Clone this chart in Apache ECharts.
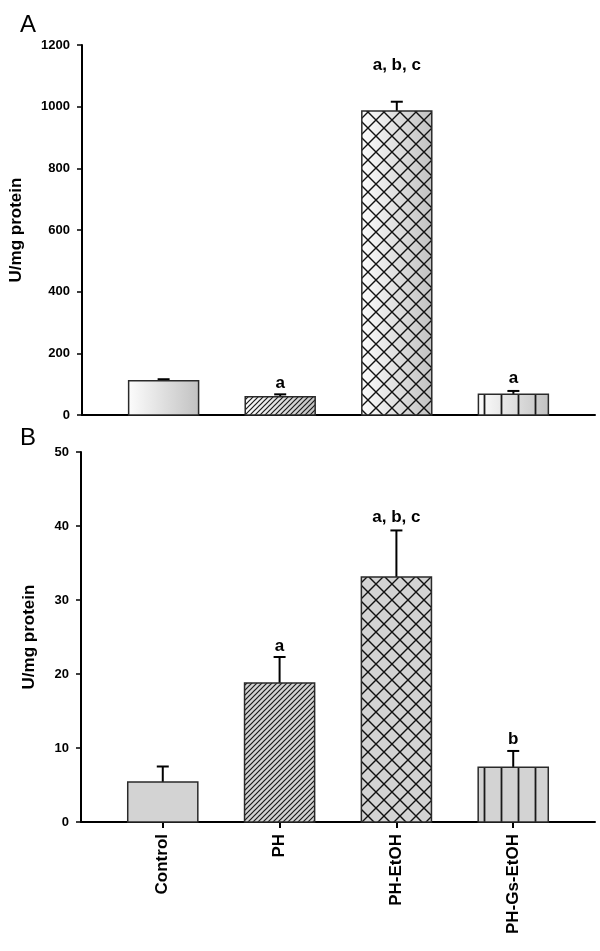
<!DOCTYPE html>
<html>
<head>
<meta charset="utf-8">
<style>
html,body{margin:0;padding:0;background:#fff;}
#chart{width:600px;height:951px;}
</style>
<script src="https://cdn.jsdelivr.net/npm/echarts@6/dist/echarts.min.js"></script>
</head>
<body>
<div id="chart"></div>
<script>
// ---- data ----
var categories = ['Control', 'PH', 'PH-EtOH', 'PH-Gs-EtOH'];
var meanA = [111, 59, 986, 67];
var errA = [5, 8, 30, 11];
var meanB = [5.4, 18.8, 33.1, 7.4];
var errB = [2.1, 3.5, 6.3, 2.2];
var sigA = ['', 'a', 'a, b, c', 'a'];
var sigAy = [null, 104, 1135, 120];
var sigB = ['', 'a', 'a, b, c', 'b'];
var sigBy = [null, 23.7, 41.2, 11.2];
var ticksA = [0, 200, 400, 600, 800, 1000, 1200];
var ticksB = [0, 10, 20, 30, 40, 50];

// ---- patterns ----
function mk(w, h, draw) {
  var c = document.createElement('canvas');
  c.width = w; c.height = h;
  var ctx = c.getContext('2d');
  draw(ctx, w, h);
  return { image: c, repeat: 'repeat' };
}
var patDiag = mk(5, 5, function (ctx, w, h) {
  ctx.strokeStyle = '#1a1a1a'; ctx.lineWidth = 1.2;
  ctx.beginPath();
  ctx.moveTo(-1, h + 1); ctx.lineTo(w + 1, -1);
  ctx.moveTo(-1, 1); ctx.lineTo(1, -1);
  ctx.moveTo(w - 1, h + 1); ctx.lineTo(w + 1, h - 1);
  ctx.stroke();
});
var patCross = mk(16, 16, function (ctx, w, h) {
  ctx.strokeStyle = '#111'; ctx.lineWidth = 1.4;
  ctx.beginPath();
  ctx.moveTo(0, 0); ctx.lineTo(w, h);
  ctx.moveTo(w, 0); ctx.lineTo(0, h);
  ctx.stroke();
});
var patVert = mk(17, 4, function (ctx, w, h) {
  ctx.strokeStyle = '#1a1a1a'; ctx.lineWidth = 1.8;
  ctx.beginPath();
  ctx.moveTo(8.5, 0); ctx.lineTo(8.5, h);
  ctx.stroke();
});
var patterns = [null, patDiag, patCross, patVert];

var FONT = "'Liberation Sans', Arial, sans-serif";

function gradFill() {
  return new echarts.graphic.LinearGradient(0, 0, 1, 0, [
    { offset: 0, color: '#fcfcfc' },
    { offset: 1, color: '#c2c2c2' }
  ]);
}

function barRender(panel) {
  return function (params, api) {
    var i = api.value(0), v = api.value(1);
    var top = api.coord([i, v]);
    var base = api.coord([i, 0]);
    var w = api.size([0.6, 0])[0];
    var shape = { x: top[0] - w / 2, y: top[1], width: w, height: base[1] - top[1] };
    var children = [{
      type: 'rect', shape: shape,
      style: { fill: panel === 'A' ? gradFill() : '#d3d3d3', stroke: 'none' }
    }];
    if (patterns[i]) {
      children.push({ type: 'rect', shape: shape, style: { fill: patterns[i], stroke: 'none' } });
    }
    children.push({ type: 'rect', shape: shape, style: { fill: 'none', stroke: '#2a2a2a', lineWidth: 1.5 } });
    return { type: 'group', children: children };
  };
}

function errRender(params, api) {
  var i = api.value(0), v = api.value(1), e = api.value(2);
  var p0 = api.coord([i, v]);
  var p1 = api.coord([i, v + e]);
  return {
    type: 'group', children: [
      { type: 'line', shape: { x1: p0[0], y1: p0[1], x2: p1[0], y2: p1[1] }, style: { stroke: '#000', lineWidth: 2 } },
      { type: 'line', shape: { x1: p1[0] - 6, y1: p1[1], x2: p1[0] + 6, y2: p1[1] }, style: { stroke: '#000', lineWidth: 2 } }
    ]
  };
}

function sigRender(labels) {
  return function (params, api) {
    var i = api.value(0), ly = api.value(1);
    var p = api.coord([i, ly]);
    return {
      type: 'text',
      style: {
        text: labels[i], x: p[0], y: p[1], align: 'center', verticalAlign: 'middle',
        font: 'bold 17px ' + FONT, fill: '#000'
      }
    };
  };
}

function sigData(ys) {
  var out = [];
  ys.forEach(function (y, i) { if (y !== null) out.push([i, y]); });
  return out;
}

var xBase = {
  type: 'value', min: -0.7, max: 3.7,
  axisLine: { show: true, onZero: false, lineStyle: { color: '#000', width: 2 } },
  splitLine: { show: false }
};

function yAxisDef(idx, ticks, gap) {
  return {
    type: 'value', gridIndex: idx, min: ticks[0], max: ticks[ticks.length - 1], interval: ticks[1] - ticks[0],
    name: 'U/mg protein', nameLocation: 'middle', nameGap: gap, nameRotate: 90,
    nameTextStyle: { fontFamily: FONT, fontSize: 17, fontWeight: 'bold', color: '#000' },
    axisLine: { show: true, onZero: false, lineStyle: { color: '#000', width: 2 } },
    axisTick: { show: true, length: 5, lineStyle: { color: '#000', width: 1.5 } },
    axisLabel: {
      margin: 12, fontFamily: FONT, fontSize: 13, fontWeight: 'bold', color: '#000',
      formatter: function (v) { return String(v); }
    },
    splitLine: { show: false }
  };
}

var chart = echarts.init(document.getElementById('chart'), null, { renderer: 'canvas' });
chart.setOption({
  animation: false,
  backgroundColor: '#fff',
  title: [
    { text: 'A', left: 15, top: 8, textStyle: { fontFamily: FONT, fontSize: 24, fontWeight: 'normal', color: '#000' } },
    { text: 'B', left: 15, top: 421, textStyle: { fontFamily: FONT, fontSize: 24, fontWeight: 'normal', color: '#000' } }
  ],
  grid: [
    { left: 81, right: 5, top: 45, height: 370, containLabel: false },
    { left: 81, right: 5, top: 452, height: 370, containLabel: false }
  ],
  xAxis: [
    Object.assign({}, xBase, {
      gridIndex: 0,
      axisTick: { show: false },
      axisLabel: { show: false }
    }),
    Object.assign({}, xBase, {
      gridIndex: 1,
      axisTick: { show: true, length: 6, lineStyle: { color: '#000', width: 2 }, customValues: [0, 1, 2, 3] },
      axisLabel: {
        show: true, rotate: 90, margin: 12, customValues: [0, 1, 2, 3],
        formatter: function (v) { return categories[Math.round(v)]; },
        fontFamily: FONT, fontSize: 17, fontWeight: 'bold', color: '#000'
      }
    })
  ],
  yAxis: [yAxisDef(0, ticksA, 57), yAxisDef(1, ticksB, 43)],
  series: [
    {
      type: 'custom', xAxisIndex: 0, yAxisIndex: 0, renderItem: barRender('A'),
      data: meanA.map(function (v, i) { return [i, v]; }), z: 2
    },
    {
      type: 'custom', xAxisIndex: 0, yAxisIndex: 0, renderItem: errRender,
      data: meanA.map(function (v, i) { return [i, v, errA[i]]; }), z: 1
    },
    {
      type: 'custom', xAxisIndex: 0, yAxisIndex: 0, renderItem: sigRender(sigA),
      data: sigData(sigAy), z: 3
    },
    {
      type: 'custom', xAxisIndex: 1, yAxisIndex: 1, renderItem: barRender('B'),
      data: meanB.map(function (v, i) { return [i, v]; }), z: 2
    },
    {
      type: 'custom', xAxisIndex: 1, yAxisIndex: 1, renderItem: errRender,
      data: meanB.map(function (v, i) { return [i, v, errB[i]]; }), z: 1
    },
    {
      type: 'custom', xAxisIndex: 1, yAxisIndex: 1, renderItem: sigRender(sigB),
      data: sigData(sigBy), z: 3
    }
  ]
});
</script>
</body>
</html>
